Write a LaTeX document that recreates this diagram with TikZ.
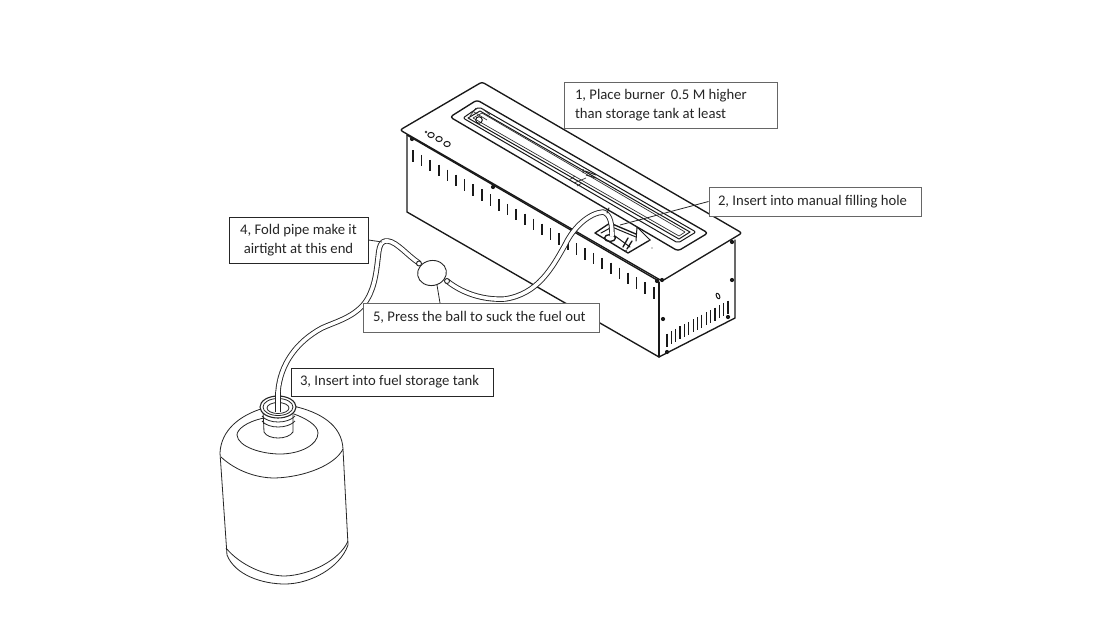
\documentclass[tikz,border=0pt]{standalone}
\usepackage{fontspec}
\usetikzlibrary{shapes.geometric}
\setmainfont{Carlito}
\tikzset{
 ln/.style={draw=black!90,line width=1pt,line join=round,line cap=round},
 hv/.style={draw=black!90,line width=1.35pt,line join=round,line cap=round},
 thin ln/.style={draw=black!80,line width=0.7pt,line join=round},
 bt/.style={draw=black!85,line width=0.8pt},
 slot/.style={draw=black!90,line width=1.6pt},
 screw/.style={fill=black!90,draw=none,circle,minimum size=4.2pt,inner sep=0pt},
 lab/.style={draw=#1,line width=1pt,fill=white,text=black!85,inner sep=0pt,font=\fontsize{14.7}{19}\selectfont,align=flush left},
 pipeout/.style={draw=black!85,line width=5.4pt,line cap=butt,line join=round},
 pipein/.style={draw=white,line width=3.6pt,line cap=butt,line join=round},
 leader/.style={draw=black!85,line width=0.8pt}
}
\newcommand{\pipeA}{(447,281) .. controls (466,296) and (488,300) .. (505,299) .. controls (538,294) and (552,268) .. (565,245) .. controls (574,226) and (590,213) .. (603,212) .. controls (611,214) and (612,226) .. (612,236)}
\newcommand{\pipeB}{(419,263) .. controls (408,256) and (397,242) .. (388,241) .. controls (380,240) and (379,248) .. (378,258) .. controls (376,275) and (374,291) .. (364,304) .. controls (352,318) and (335,322) .. (322,328) .. controls (296,342) and (280,365) .. (278,392) -- (278,413)}
\begin{document}
\begin{tikzpicture}[x=1pt,y=-1pt]
\useasboundingbox (0,0) rectangle (1111,616);
\fill[white] (0,0) rectangle (1111,616);
% burner body
\draw[hv] (407,135) -- (407,212) -- (659,357) -- (735,318) -- (735,240);
\draw[hv] (659,282) -- (659,357);
% top plate
\draw[hv,fill=white,rounded corners=2.5pt] (400,130) -- (482,82) -- (742,233) -- (662,281) -- cycle;
\draw[hv] (407,135) -- (657,280);
% slots
\foreach \i in {0,...,28}{
  \draw[slot] ({413+\i*8.6},{150+\i*4.9}) -- ++(0,11.5);
}
\foreach \i in {0,...,14}{
  \draw[slot,line width=1.2pt] ({667+\i*4.36},{333.5-\i*2.35}) -- ++(0,13);
}
% screws
\foreach \p in {(412,139),(493,187),(657,281),(662,280),(732,242),(732,280),(663,319),(728,317),(667,352)}{
  \node[screw] at \p {};
}
\draw[ln] (718,296) ellipse [x radius=1.6,y radius=3,rotate=25];
% buttons
\fill[black!80] (426,132) circle (1.4);
\foreach \p in {(431,135),(439,139),(447,144)}{
  \draw[ln] \p ellipse [x radius=3.2,y radius=2.6];
}
% tray
\draw[hv,rounded corners=3pt] (450,117) -- (477,100) -- (708,233) -- (678,251) -- cycle;
\draw[ln,rounded corners=2pt] (463,118) -- (479,107) -- (696,232) -- (678,243) -- cycle;
\draw[ln] (468,118) -- (480,111) -- (690,232) -- (679,239) -- cycle;
\draw[thin ln] (473,118) -- (482,113) -- (685,232) -- (679,236) -- cycle;
\draw[ln] (479,120) circle (3.3);
\draw[thin ln] (474,112) -- (487,120) (470,116) -- (476,108) (483,109) -- (490,115);
\draw[thin ln] (569,180) -- (575,176) (574,183) -- (586,178) (577,186) -- (582,183);
\draw[line width=1pt,draw=black!85] (583,169) -- (583,173) (585,171) -- (596,175) (586,175) -- (596,178);
% filling hole
\draw[hv,fill=white] (595,233) -- (610,223) -- (650,240) -- (628,253) -- cycle;
\draw[ln] (601,233) -- (612,227) -- (636,237);
\draw[ln] (615,236) -- (630,247);
\draw[ln,fill=white] (636,241) -- (637,227) -- (650,240);
\draw[hv] (628,238) -- (623,247) (632,241) -- (627,249);
\draw[hv] (610,238) ellipse [x radius=5.5,y radius=3.5];
\fill[black!80] (626,251) circle (1.2) (652,248) circle (0.6);
% pipe
\draw[pipeout] \pipeA;
\draw[pipein] \pipeA;
\draw[pipeout] \pipeB;
\draw[pipein] \pipeB;
\draw[ln] (609,208) -- (607,213);
% ball
\node[draw=black!85,line width=0.9pt,fill=white,ellipse,minimum width=29pt,minimum height=25pt,inner sep=0pt,rotate=10] (ball) at (432,273) {};
\node[draw=black!85,line width=0.9pt,fill=white,circle,minimum size=5pt,inner sep=0pt] (j1) at (419,263.5) {};
\node[draw=black!85,line width=0.9pt,fill=white,circle,minimum size=5pt,inner sep=0pt] (j2) at (447,281) {};
% bottle
\draw[bt,fill=white] (220,453) .. controls (221,430) and (240,415) .. (264,408) -- (293,406) .. controls (320,412) and (342,425) .. (343,449) -- (348,545) .. controls (340,568) and (310,584) .. (285,584) .. controls (262,584) and (235,575) .. (227,555) -- cycle;
\draw[bt] (221,457) .. controls (235,470) and (255,478) .. (275,478) .. controls (305,477) and (335,465) .. (343,449);
\draw[bt] (226,548) .. controls (240,565) and (265,576) .. (285,576) .. controls (310,575) and (340,560) .. (348,541);
\draw[bt] (264,418) .. controls (245,422) and (237,430) .. (237,435) .. controls (238,447) and (262,454) .. (280,454) .. controls (300,454) and (318,445) .. (318,433) .. controls (318,425) and (305,418) .. (294,414);
\draw[bt,fill=white] (263,409) -- (264,432) .. controls (268,440) and (288,440) .. (293,432) -- (293,409);
\draw[bt] (262,421) .. controls (268,429) and (288,429) .. (295,421);
\draw[bt] (262,416) .. controls (268,424) and (288,424) .. (295,416);
\draw[bt,fill=white,line width=1.1pt] (278,407) ellipse [x radius=18,y radius=11];
\draw[bt] (278,407) ellipse [x radius=15,y radius=8.5];
\draw[bt] (278,408) ellipse [x radius=11,y radius=5.5];
\draw[pipeout] (278,392) -- (278,412);
\draw[pipein] (278,392) -- (278,412.5);
% labels
\node[lab=black!60,minimum width=213pt,minimum height=46pt,text width=191pt] (l1) at (670.5,105) {1, Place burner\, 0.5 M higher\\than storage tank at least};
\node[lab=black!60,minimum width=212pt,minimum height=29pt,text width=194pt] (l2) at (815,201.5) {2, Insert into manual filling hole};
\node[lab=black!85,minimum width=202pt,minimum height=28pt,text width=184pt] (l3) at (392,382) {3, Insert into fuel storage tank};
\node[lab=black!85,minimum width=139pt,minimum height=46pt,align=center] (l4) at (298.5,240) {4, Fold pipe make it\\airtight at this end};
\node[lab=black!60,minimum width=236pt,minimum height=29pt,text width=216pt] (l5) at (481,317.5) {5, Press the ball to suck the fuel out};
% leaders
\coordinate (e2) at (620,225);
\coordinate (e4) at (382,242);
\coordinate (b5) at (440,303);
\coordinate (b6) at (437,285);
\draw[leader] (l2.west) -- (e2);
\draw[leader] (l4.east) -- (e4);
\draw[leader] (b6) -- (b5);
\end{tikzpicture}
\end{document}
